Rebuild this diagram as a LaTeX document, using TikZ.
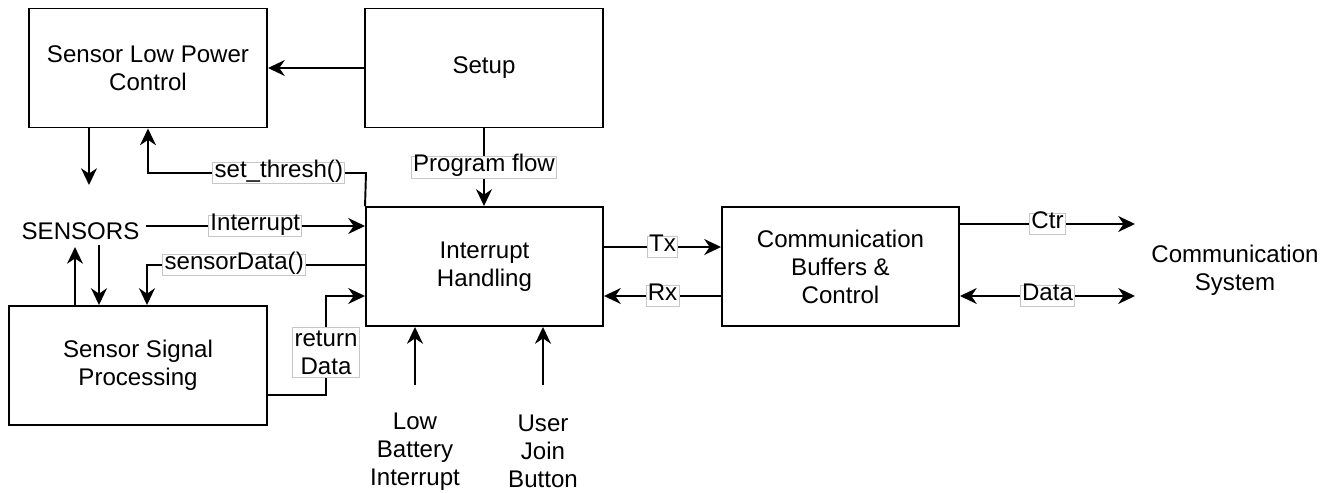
\documentclass[tikz,border=0pt]{standalone}
\usepackage{fontspec}
\setmainfont{Liberation Sans}
\usetikzlibrary{arrows.meta}
\colorlet{TagBorder}{black!22}
\newcommand{\diagfont}{\fontsize{13.7pt}{15.9pt}\selectfont}
\tikzstyle{funcBlock}=[draw,line width=1.1pt,minimum width=4.74cm,minimum height=2.38cm,inner sep=1pt,align=center,font=\diagfont]
\tikzstyle{plainNode}=[align=center,font=\diagfont]
\tikzstyle{flowArrow}=[-{Stealth[length=9.5pt,width=9pt,inset=3pt]}, line width=1.1pt]
\tikzstyle{flowBoth}=[{Stealth[length=9.5pt,width=9pt,inset=3pt]}-{Stealth[length=9.5pt,width=9pt,inset=3pt]}, line width=1.1pt]
\tikzstyle{edgeTag}=[draw=TagBorder,line width=0.5pt,fill=white,inner xsep=1pt,inner ysep=1.5pt,text height=0.73em,text depth=0.21em,font=\diagfont]
\tikzstyle{edgeTagTwo}=[draw=TagBorder,line width=0.5pt,fill=white,inner xsep=1pt,inner ysep=1.5pt,align=center,font=\diagfont]

\begin{document}
\begin{tikzpicture}
    \useasboundingbox (0,0) rectangle (26.7,-9.84);

    % Blocks
    \node[funcBlock, minimum width=4.76cm] (lowPower) at (2.96,-1.36) {Sensor Low Power\\Control};
    \node[funcBlock, minimum width=4.76cm] (setup) at (9.68,-1.36) {Setup};
    \node[funcBlock] (intHandling) at (9.69,-5.33) {Interrupt\\Handling};
    \node[funcBlock, minimum width=5.16cm] (signalProc) at (2.76,-7.31) {Sensor Signal\\Processing};
    \node[funcBlock] (commBuffers) at (16.81,-5.33) {Communication\\Buffers \&\\Control};

    \node[plainNode] (sensors) at (1.61,-4.62) {SENSORS};
    \node[plainNode] (commSystem) at (24.7,-5.4) {Communication\\System};
    \node[plainNode] (lowBattery) at (8.3,-9.03) {Low\\Battery\\Interrupt};
    \node[plainNode] (userJoin) at (10.86,-9.03) {User\\Join\\Button};

    % Setup side
    \draw[flowArrow] (setup.west) -- (lowPower.east);
    \draw[flowArrow] (setup.south) -- node[edgeTag] {Program flow} (setup.south |- intHandling.north);

    % Sensor side
    \coordinate (sleepOut) at (1.78,-3.7);
    \draw[flowArrow] (sleepOut |- lowPower.south) -- (sleepOut);

    \coordinate (threshTurn) at (7.32,-3.46);
    \draw[flowArrow] (intHandling.north west) -- (threshTurn) -| node[edgeTag, pos=0.2] {set\_thresh()} (lowPower.south);

    \coordinate (intY) at (0,-4.52);
    \draw[flowArrow] (sensors.east |- intY) -- node[edgeTag] {Interrupt} (intHandling.west |- intY);

    \coordinate (dataTurn) at (2.94,-5.3);
    \draw[flowArrow] (intHandling.west |- dataTurn) -- node[edgeTag, pos=0.6] {sensorData()} (dataTurn) -- (dataTurn |- signalProc.north);

    \coordinate (rawUp) at (1.5,-4.94);
    \coordinate (rawDown) at (1.98,-4.9);
    \draw[flowArrow] (rawUp |- signalProc.north) -- (rawUp);
    \draw[flowArrow] (rawDown) -- (rawDown |- signalProc.north);

    \coordinate (retTurn) at (6.52,-7.9);
    \coordinate (retIn) at (6.52,-5.92);
    \draw[flowArrow] (signalProc.east |- retTurn) -- (retTurn) -- node[edgeTagTwo, pos=0.43] {return\\Data} (retIn) -- (intHandling.west |- retIn);

    % External interrupts
    \coordinate (batteryIn) at (8.3,-7.7);
    \coordinate (joinIn) at (10.86,-7.7);
    \draw[flowArrow] (batteryIn) -- (batteryIn |- intHandling.south);
    \draw[flowArrow] (joinIn) -- (joinIn |- intHandling.south);

    % Communication side
    \coordinate (txY) at (0,-4.94);
    \coordinate (rxY) at (0,-5.92);
    \draw[flowArrow] (intHandling.east |- txY) -- node[edgeTag] {Tx} (commBuffers.west |- txY);
    \draw[flowArrow] (commBuffers.west |- rxY) -- node[edgeTag] {Rx} (intHandling.east |- rxY);

    \coordinate (ctrOut) at (22.7,-4.48);
    \coordinate (dataOut) at (22.7,-5.92);
    \draw[flowArrow] (commBuffers.east |- ctrOut) -- node[edgeTag] {Ctr} (ctrOut);
    \draw[flowBoth] (commBuffers.east |- dataOut) -- node[edgeTag] {Data} (dataOut);
\end{tikzpicture}
\end{document}
